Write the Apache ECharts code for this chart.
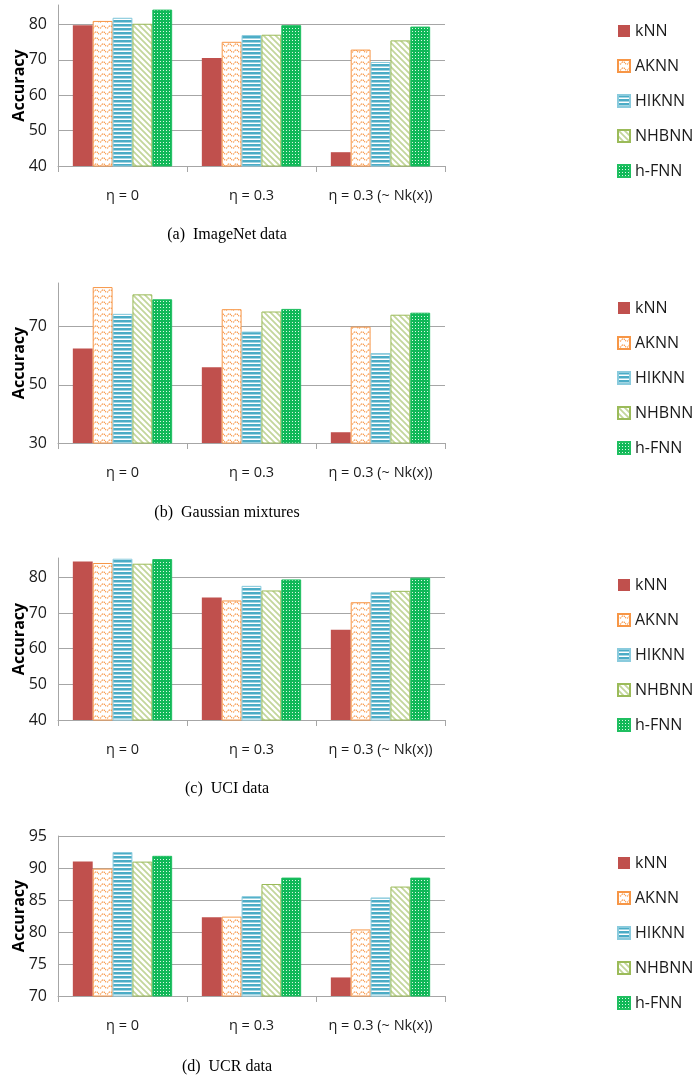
<!DOCTYPE html>
<html>
<head>
<meta charset="utf-8">
<script src="https://cdn.jsdelivr.net/npm/echarts@6/dist/echarts.min.js"></script>
<style>
  html, body { margin: 0; padding: 0; background: #fff; }
  #chart { width: 694px; height: 1076px; }
</style>
</head>
<body>
<div id="chart"></div>
<script>
// ---------------- DATA ----------------
const categories = ['η = 0', 'η = 0.3', 'η = 0.3 (~ Nk(x))'];
const methods = ['kNN', 'AKNN', 'HIKNN', 'NHBNN', 'h-FNN'];
const captions = ['(a)  ImageNet data', '(b)  Gaussian mixtures', '(c)  UCI data', '(d)  UCR data'];

// values per method, across categories
const imagenetKNN   = [79.8, 70.5, 43.9];
const imagenetAKNN  = [81.0, 75.1, 72.9];
const imagenetHIKNN = [81.9, 77.0, 69.4];
const imagenetNHBNN = [80.2, 77.1, 75.5];
const imagenetHFNN  = [84.2, 79.8, 79.4];

const gaussKNN   = [62.5, 56.0, 33.7];
const gaussAKNN  = [83.6, 76.0, 70.0];
const gaussHIKNN = [74.4, 68.3, 60.9];
const gaussNHBNN = [81.1, 75.2, 74.1];
const gaussHFNN  = [79.4, 76.1, 74.8];

const uciKNN   = [84.4, 74.3, 65.3];
const uciAKNN  = [84.0, 73.5, 73.0];
const uciHIKNN = [85.2, 77.6, 75.8];
const uciNHBNN = [83.8, 76.3, 76.2];
const uciHFNN  = [85.1, 79.4, 79.9];

const ucrKNN   = [91.0, 82.3, 72.9];
const ucrAKNN  = [89.9, 82.4, 80.4];
const ucrHIKNN = [92.5, 85.6, 85.4];
const ucrNHBNN = [91.0, 87.5, 87.1];
const ucrHFNN  = [91.9, 88.5, 88.5];

// y-axis tick labels per panel
const imagenetTicks = [40, 50, 60, 70, 80];
const gaussTicks = [30, 50, 70];
const uciTicks = [40, 50, 60, 70, 80];
const ucrTicks = [70, 75, 80, 85, 90, 95];

const panelValues = [
  [imagenetKNN, imagenetAKNN, imagenetHIKNN, imagenetNHBNN, imagenetHFNN],
  [gaussKNN, gaussAKNN, gaussHIKNN, gaussNHBNN, gaussHFNN],
  [uciKNN, uciAKNN, uciHIKNN, uciNHBNN, uciHFNN],
  [ucrKNN, ucrAKNN, ucrHIKNN, ucrNHBNN, ucrHFNN]
];
const panelTicks = [imagenetTicks, gaussTicks, uciTicks, ucrTicks];

// ---------------- LAYOUT / STYLE ----------------
const panelTops = [5, 283, 558, 836];
const panelHeights = [161, 160, 162, 160];
const panelMax = [85.5, 85, 85.4, 95];
const legendTops = [23, 300, 577, 855];
const captionY = [235, 513, 789, 1067];

function makeCanvas(w, h, draw) {
  const c = document.createElement('canvas');
  c.width = w; c.height = h;
  draw(c.getContext('2d'));
  return c;
}
const akPattern = makeCanvas(7, 6, ctx => {
  ctx.fillStyle = '#fff'; ctx.fillRect(0, 0, 7, 6);
  ctx.strokeStyle = '#F79646'; ctx.lineWidth = 1.1;
  ctx.setLineDash([1.6, 0.8]);
  ctx.beginPath();
  for (let x = 0; x <= 7; x += 0.5) {
    const y = 3 + 1.3 * Math.sin(2 * Math.PI * x / 7);
    if (x === 0) ctx.moveTo(x, y); else ctx.lineTo(x, y);
  }
  ctx.stroke();
});
const hiPattern = makeCanvas(4, 4, ctx => {
  ctx.fillStyle = '#fff'; ctx.fillRect(0, 0, 4, 4);
  ctx.fillStyle = '#4BACC6'; ctx.fillRect(0, 0, 4, 2.5);
});
const nhPattern = makeCanvas(6, 6, ctx => {
  ctx.fillStyle = '#fff'; ctx.fillRect(0, 0, 6, 6);
  ctx.strokeStyle = '#C3D69B'; ctx.lineWidth = 1.8;
  ctx.beginPath();
  ctx.moveTo(-1, -1); ctx.lineTo(7, 7);
  ctx.moveTo(-4, 2); ctx.lineTo(4, 10);
  ctx.moveTo(2, -4); ctx.lineTo(10, 4);
  ctx.stroke();
});
const hfPattern = makeCanvas(3, 3, ctx => {
  ctx.fillStyle = '#10B858'; ctx.fillRect(0, 0, 3, 3);
  ctx.fillStyle = 'rgba(255,255,255,0.85)'; ctx.fillRect(1, 1, 1, 1);
});

const methodStyles = [
  { color: '#C0504D', borderWidth: 0 },
  { color: { image: akPattern, repeat: 'repeat' }, borderColor: '#F79646', borderWidth: 1 },
  { color: { image: hiPattern, repeat: 'repeat' }, borderColor: '#8ACBDD', borderWidth: 1 },
  { color: { image: nhPattern, repeat: 'repeat' }, borderColor: '#9BBB59', borderWidth: 1 },
  { color: { image: hfPattern, repeat: 'repeat' }, borderColor: '#1FBF60', borderWidth: 1 }
];

const FONT = '"Open Sans", "Noto Sans", sans-serif';
const gridColor = '#A6A6A6';

const grids = [], xAxes = [], yAxes = [], series = [], legends = [], graphics = [];
for (let p = 0; p < 4; p++) {
  const ticks = panelTicks[p];
  const interval = ticks[1] - ticks[0];
  grids.push({ left: 58, width: 387, top: panelTops[p], height: panelHeights[p], containLabel: false, outerBoundsMode: 'none' });
  xAxes.push({
    type: 'category', gridIndex: p, data: categories,
    axisLine: { lineStyle: { color: gridColor, width: 1 } },
    axisTick: { show: true, length: 6, lineStyle: { color: gridColor } },
    axisLabel: { color: '#1a1a1a', fontFamily: FONT, fontSize: 14.5, margin: 22, interval: 0, hideOverlap: false }
  });
  yAxes.push({
    type: 'value', gridIndex: p, min: ticks[0], max: panelMax[p], interval: interval,
    name: 'Accuracy', nameLocation: 'middle', nameGap: 31, nameMoveOverlap: false,
    nameTextStyle: { fontFamily: FONT, fontSize: 16, fontWeight: 'bold', color: '#000' },
    axisLine: { show: true, lineStyle: { color: gridColor, width: 1 } },
    axisTick: { show: false },
    axisLabel: {
      color: '#1a1a1a', fontFamily: FONT, fontSize: 16, margin: 11,
      formatter: v => (ticks.indexOf(v) >= 0 ? String(v) : '')
    },
    splitLine: { show: true, showMaxLine: p === 3, lineStyle: { color: gridColor, width: 1 } }
  });
  for (let m = 0; m < methods.length; m++) {
    series.push({
      type: 'bar', name: methods[m], xAxisIndex: p, yAxisIndex: p,
      data: panelValues[p][m],
      barGap: '0%', barCategoryGap: '23%',
      itemStyle: methodStyles[m],
      emphasis: { disabled: true },
      animation: false
    });
  }
  legends.push({
    orient: 'vertical', left: 617, top: legendTops[p], padding: 0,
    data: methods, icon: 'rect', itemWidth: 12, itemHeight: 12, itemGap: 19,
    textStyle: { fontFamily: FONT, fontSize: 16, color: '#1a1a1a' },
    selectedMode: false
  });
  graphics.push({
    type: 'text', x: 227, y: captionY[p],
    style: {
      text: captions[p], font: '16px "Liberation Serif", "Times New Roman", serif',
      fill: '#000', textAlign: 'center', textVerticalAlign: 'middle'
    }
  });
}

const chart = echarts.init(document.getElementById('chart'), null, { renderer: 'canvas' });
chart.setOption({
  backgroundColor: '#fff',
  animation: false,
  grid: grids, xAxis: xAxes, yAxis: yAxes, series: series, legend: legends,
  graphic: graphics
});
</script>
</body>
</html>
